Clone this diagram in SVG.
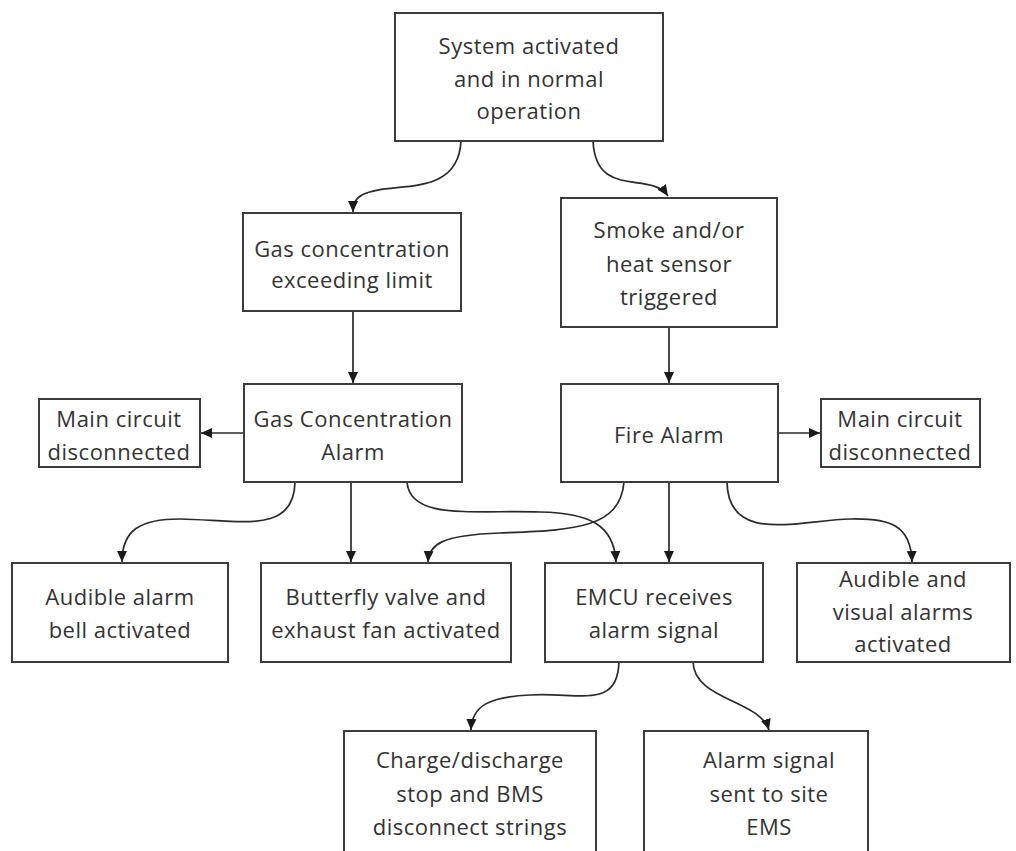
<svg xmlns="http://www.w3.org/2000/svg" width="1016" height="851" viewBox="0 0 1016 851">
<style>
.box{fill:#fff;stroke:#3c3c3c;stroke-width:2}
.t{font-family:"Open Sans","Noto Sans",sans-serif;font-size:22px;letter-spacing:0.5px;fill:#333;text-anchor:middle}
.c{fill:none;stroke:#2a2a2a;stroke-width:1.7;marker-end:url(#ah)}
</style>
<defs>
<marker id="ah" markerWidth="12" markerHeight="12" refX="11" refY="5.5" orient="auto" markerUnits="userSpaceOnUse">
<path d="M0,0.5 L11,5.5 L0,10.5 Z" fill="#1a1a1a"/>
</marker>
</defs>
<rect width="1016" height="851" fill="#fff"/>
<g id="connectors">
<path class="c" d="M461,141 C458,200 390,180 362,195 C355,199 353,204 353,212"/>
<path class="c" d="M593,141 C596,200 650,170 668,196"/>
<path class="c" d="M353,311 L353,383"/>
<path class="c" d="M669,327 L669,383"/>
<path class="c" d="M244,433 L201,433"/>
<path class="c" d="M778,433 L820,433"/>
<path class="c" d="M295,482 C294,535 240,520 180,519 C140,519 122,530 122,562"/>
<path class="c" d="M351,482 L351,562"/>
<path class="c" d="M407,482 C410,520 470,510 540,512 C590,513 614,525 616,562"/>
<path class="c" d="M624,482 C620,530 570,530 500,533 C440,535 429,545 428,562"/>
<path class="c" d="M669,482 L669,562"/>
<path class="c" d="M727,482 C728,545 800,520 850,519 C890,518 911,525 912,562"/>
<path class="c" d="M619,661 C618,710 580,692 530,695 C490,697 472,705 471,730"/>
<path class="c" d="M693,661 C693,700 760,700 769,730"/>
</g>
<g id="n1"><rect class="box" x="395" y="13" width="268" height="128"/>
<text class="t" x="529" y="54">System activated</text><text class="t" x="529" y="87">and in normal</text><text class="t" x="529" y="119">operation</text></g>
<g id="n2"><rect class="box" x="243" y="213" width="218" height="98"/>
<text class="t" x="352" y="257">Gas concentration</text><text class="t" x="352" y="288">exceeding limit</text></g>
<g id="n3"><rect class="box" x="561" y="198" width="216" height="129"/>
<text class="t" x="669" y="238">Smoke and/or</text><text class="t" x="669" y="272">heat sensor</text><text class="t" x="669" y="305">triggered</text></g>
<g id="n4"><rect class="box" x="244" y="384" width="218" height="98"/>
<text class="t" x="353" y="427">Gas Concentration</text><text class="t" x="353" y="460">Alarm</text></g>
<g id="n5"><rect class="box" x="39" y="399" width="161" height="68"/>
<text class="t" x="119" y="427">Main circuit</text><text class="t" x="119" y="460">disconnected</text></g>
<g id="n6"><rect class="box" x="561" y="384" width="217" height="98"/>
<text class="t" x="669" y="443">Fire Alarm</text></g>
<g id="n7"><rect class="box" x="821" y="399" width="159" height="68"/>
<text class="t" x="900" y="427">Main circuit</text><text class="t" x="900" y="460">disconnected</text></g>
<g id="n8"><rect class="box" x="12" y="563" width="216" height="99"/>
<text class="t" x="120" y="605">Audible alarm</text><text class="t" x="120" y="638">bell activated</text></g>
<g id="n9"><rect class="box" x="261" y="563" width="250" height="99"/>
<text class="t" x="386" y="605">Butterfly valve and</text><text class="t" x="386" y="638">exhaust fan activated</text></g>
<g id="n10"><rect class="box" x="545" y="563" width="218" height="99"/>
<text class="t" x="654" y="605">EMCU receives</text><text class="t" x="654" y="638">alarm signal</text></g>
<g id="n11"><rect class="box" x="797" y="563" width="213" height="99"/>
<text class="t" x="903" y="587">Audible and</text><text class="t" x="903" y="620">visual alarms</text><text class="t" x="903" y="652">activated</text></g>
<g id="n12"><rect class="box" x="344" y="731" width="252" height="130"/>
<text class="t" x="470" y="768">Charge/discharge</text><text class="t" x="470" y="802">stop and BMS</text><text class="t" x="470" y="835">disconnect strings</text></g>
<g id="n13"><rect class="box" x="644" y="731" width="224" height="130"/>
<text class="t" x="769" y="768">Alarm signal</text><text class="t" x="769" y="802">sent to site</text><text class="t" x="769" y="835">EMS</text></g>
</svg>
